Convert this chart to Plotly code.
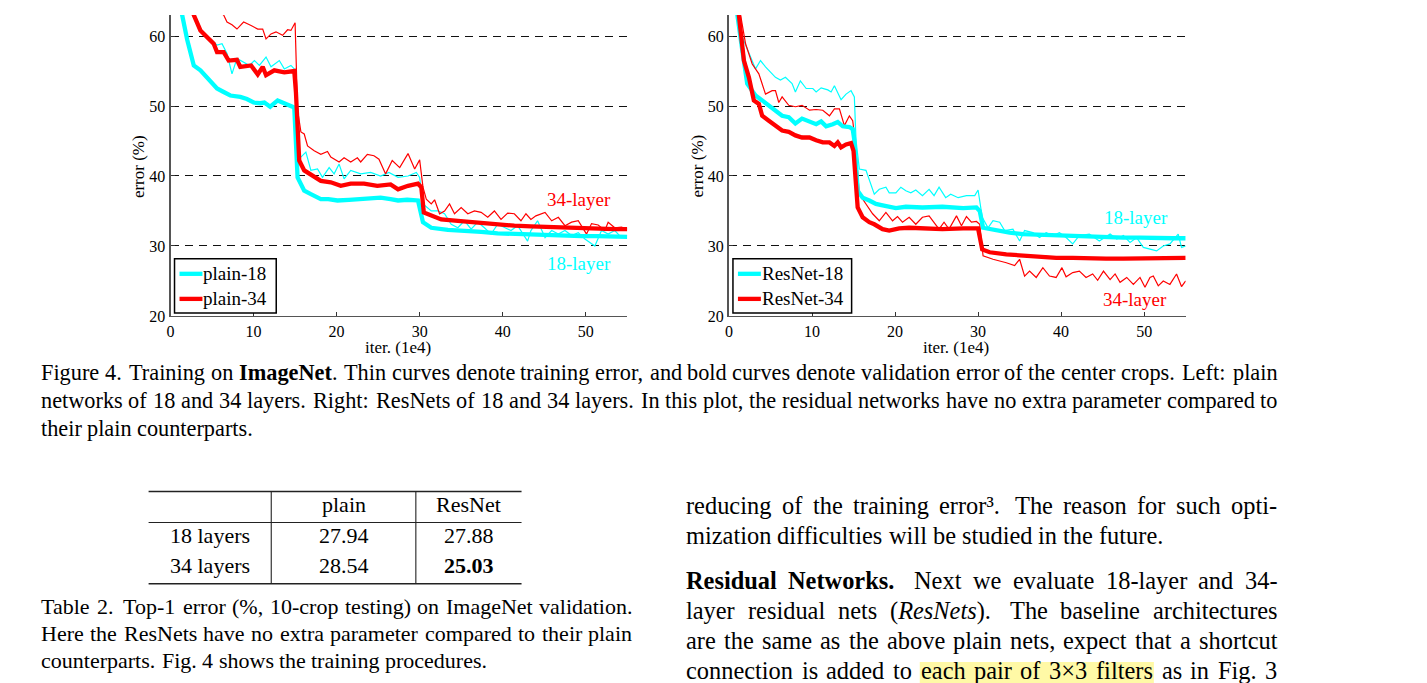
import plotly.graph_objects as go

# ---------------- data ----------------
x_ticks = [0, 10, 20, 30, 40, 50]
y_ticks = [20, 30, 40, 50, 60]

# Left panel: plain networks  (x = iter (1e4), y = error %)
plain18_train = [(2.4, 63.5), (3.2, 62.2), (4.0, 60.1), (4.8, 59.6), (5.6, 58.7), (6.2, 58.9), (6.8, 57.5),
                 (7.4, 54.6), (8.0, 56.8), (8.8, 56.3), (9.5, 55.8), (10.1, 56.5), (10.7, 55.8), (11.5, 57.0),
                 (12.1, 55.6), (13.1, 56.5), (13.7, 55.3), (14.5, 55.8), (14.9, 55.3), (15.3, 43.6), (15.7, 42.7),
                 (16.3, 43.4), (16.9, 40.8), (17.7, 41.0), (18.3, 39.8), (19.1, 41.2), (19.7, 40.3), (20.3, 41.7),
                 (20.9, 39.6), (21.7, 40.8), (22.9, 40.3), (24.1, 40.5), (25.3, 40.0), (26.3, 40.5), (27.4, 39.8),
                 (28.6, 40.0), (29.6, 40.5), (30.0, 39.8), (30.4, 36.0), (31.4, 35.0), (32.2, 35.0), (33.0, 34.6),
                 (33.8, 33.1), (34.6, 32.6), (35.4, 33.6), (36.2, 32.4), (37.0, 33.4), (37.8, 32.6), (38.6, 31.7),
                 (39.4, 33.1), (40.2, 32.6), (41.0, 32.2), (41.8, 32.9), (43.0, 30.7), (43.4, 32.2), (44.2, 33.6),
                 (45.1, 31.2), (45.9, 32.2), (46.7, 31.7), (47.5, 32.2), (48.3, 31.5), (49.1, 31.9), (49.9, 31.0),
                 (51.1, 30.0), (51.9, 32.2), (52.7, 31.7), (53.5, 32.2), (54.3, 31.2), (55.0, 31.5)]
plain34_train = [(5.8, 63.5), (6.4, 63.0), (6.8, 62.0), (7.4, 61.6), (8.0, 61.0), (8.8, 62.0), (9.7, 61.5),
                 (10.5, 61.0), (11.1, 61.0), (11.5, 59.6), (12.1, 60.3), (12.7, 60.6), (13.5, 60.1), (14.1, 60.9),
                 (14.5, 60.8), (15.0, 61.9), (15.3, 49.4), (15.7, 46.3), (16.1, 46.0), (16.5, 44.3), (17.3, 43.6),
                 (18.1, 43.1), (18.9, 43.5), (19.3, 42.7), (20.3, 42.0), (20.9, 42.6), (21.7, 42.0), (22.5, 42.6),
                 (22.9, 42.0), (23.7, 43.1), (24.5, 42.9), (25.1, 42.4), (25.9, 40.3), (26.7, 42.2), (27.6, 41.2),
                 (28.6, 43.2), (29.4, 41.0), (30.0, 42.3), (30.4, 38.4), (30.8, 36.7), (31.4, 36.0), (31.8, 36.6),
                 (32.4, 34.6), (33.0, 35.0), (33.6, 36.0), (34.2, 34.6), (35.0, 35.5), (35.8, 34.6), (36.6, 35.0),
                 (37.4, 34.8), (38.2, 34.1), (39.0, 35.0), (39.8, 33.8), (40.6, 34.7), (41.4, 34.6), (42.2, 33.6),
                 (42.8, 34.6), (43.4, 33.8), (44.0, 34.3), (45.1, 34.8), (45.9, 33.6), (46.7, 34.1), (47.5, 32.9),
                 (48.3, 33.4), (49.1, 33.6), (50.1, 31.7), (50.7, 33.2), (51.5, 33.0), (52.3, 32.2), (52.7, 33.4),
                 (53.5, 32.6), (54.3, 32.7), (55.0, 32.4)]
plain18_val = [(1.0, 66.0), (1.4, 63.0), (2.0, 59.5), (2.8, 55.8), (3.6, 55.1), (4.4, 54.1), (5.0, 53.4),
               (5.6, 52.5), (6.4, 52.0), (7.2, 51.5), (8.4, 51.3), (9.2, 51.0), (10.0, 50.5), (10.8, 50.4),
               (11.3, 50.5), (12.0, 49.9), (12.9, 50.8), (13.5, 50.5), (14.1, 50.1), (14.9, 49.8), (15.3, 39.8),
               (16.1, 37.9), (16.9, 37.4), (18.1, 36.7), (19.0, 36.7), (20.1, 36.5), (21.5, 36.6), (23.3, 36.7),
               (25.3, 36.9), (26.5, 36.7), (27.4, 36.5), (28.5, 36.6), (29.8, 36.5), (30.4, 33.4), (31.4, 32.6),
               (33.4, 32.3), (35.4, 32.2), (37.4, 32.0), (39.4, 31.8), (41.4, 31.7), (43.4, 31.6), (45.4, 31.5),
               (47.5, 31.5), (49.5, 31.4), (51.5, 31.4), (53.5, 31.3), (55.0, 31.3)]
plain34_val = [(2.6, 64.0), (2.8, 63.0), (3.6, 60.8), (4.4, 59.9), (5.2, 58.9), (5.6, 57.7), (6.4, 57.7),
               (7.0, 56.5), (8.0, 56.6), (8.4, 55.6), (9.7, 55.8), (10.5, 54.5), (11.1, 55.6), (11.5, 54.4),
               (12.5, 55.1), (13.7, 54.8), (14.9, 55.0), (15.1, 52.0), (15.5, 42.2), (16.1, 40.8), (17.3, 39.8),
               (18.1, 39.3), (19.3, 39.1), (20.5, 38.6), (21.7, 38.9), (23.3, 38.9), (24.9, 38.6), (26.5, 38.8),
               (27.4, 38.1), (28.6, 38.6), (29.8, 38.9), (30.2, 38.4), (30.5, 34.8), (31.4, 34.3), (32.6, 33.8),
               (34.6, 33.6), (35.4, 33.5), (37.4, 33.4), (39.4, 33.0), (41.4, 32.9), (43.4, 32.8), (45.4, 32.7),
               (47.5, 32.6), (49.5, 32.6), (51.5, 32.5), (53.5, 32.4), (55.0, 32.4)]

# Right panel: residual networks
res18_train = [(0.9, 64.0), (1.0, 63.0), (1.6, 59.9), (2.2, 58.2), (3.2, 55.3), (3.8, 56.5), (4.4, 55.6),
               (5.6, 54.1), (6.2, 53.7), (6.8, 54.1), (7.6, 53.2), (8.0, 52.0), (8.6, 53.6), (9.3, 52.5),
               (10.1, 52.5), (10.5, 52.0), (11.1, 52.6), (11.9, 52.3), (12.3, 52.0), (12.7, 52.9), (13.5, 50.9),
               (14.1, 51.7), (14.7, 52.2), (15.1, 51.3), (15.3, 45.1), (15.7, 41.0), (16.5, 40.8), (17.5, 37.4),
               (18.1, 38.1), (18.9, 38.4), (19.3, 37.6), (20.1, 37.6), (20.7, 38.4), (21.3, 37.9), (21.9, 37.6),
               (22.5, 38.0), (23.3, 37.2), (24.1, 38.1), (24.7, 37.2), (25.3, 38.4), (26.1, 36.9), (26.7, 37.4),
               (27.6, 36.9), (28.6, 37.2), (29.6, 37.2), (30.0, 38.0), (30.5, 34.1), (31.2, 32.6), (31.8, 33.6),
               (32.6, 33.4), (33.2, 32.2), (34.2, 32.4), (35.0, 30.7), (35.6, 32.2), (36.6, 31.9), (37.4, 31.2),
               (38.2, 31.9), (39.0, 31.5), (39.8, 31.9), (40.6, 31.2), (41.4, 30.3), (42.2, 31.5), (43.4, 31.7),
               (44.6, 30.7), (45.9, 31.7), (46.7, 31.0), (47.5, 31.5), (48.3, 30.5), (49.1, 31.2), (49.9, 29.8),
               (50.7, 29.5), (51.5, 29.3), (52.3, 30.0), (53.1, 30.3), (54.1, 31.7), (54.5, 29.8), (55.0, 30.0)]
res34_train = [(1.3, 64.0), (1.4, 63.0), (2.0, 58.9), (2.8, 56.0), (3.6, 54.6), (4.4, 51.7), (5.2, 52.2),
               (5.6, 52.2), (6.0, 50.5), (6.4, 51.3), (7.2, 50.1), (8.0, 49.9), (8.8, 50.1), (9.7, 49.4),
               (10.5, 49.5), (11.3, 49.4), (12.1, 48.6), (12.7, 49.6), (13.3, 49.6), (13.9, 47.2), (14.5, 48.6),
               (14.9, 47.9), (15.2, 45.1), (15.7, 37.4), (16.5, 36.0), (17.3, 34.6), (18.1, 33.6), (18.9, 34.8),
               (19.7, 33.6), (20.3, 34.2), (20.9, 33.4), (21.7, 34.1), (22.5, 33.1), (23.3, 34.1), (24.1, 34.3),
               (24.7, 33.4), (25.3, 32.4), (25.9, 33.4), (26.5, 32.4), (27.4, 34.3), (28.0, 32.9), (28.6, 34.2),
               (29.2, 33.4), (29.8, 33.5), (30.2, 33.1), (30.6, 28.6), (31.8, 28.1), (33.4, 27.6), (34.4, 27.2),
               (35.0, 28.1), (35.6, 25.7), (36.2, 26.4), (37.0, 25.5), (37.8, 26.9), (38.6, 25.7), (39.4, 25.5),
               (40.1, 26.9), (40.6, 25.6), (41.4, 26.2), (42.2, 26.4), (43.0, 25.5), (43.8, 26.0), (44.4, 25.1),
               (45.1, 26.4), (45.9, 25.2), (46.5, 26.0), (47.1, 24.8), (47.9, 25.5), (48.7, 24.5), (49.5, 25.5),
               (50.1, 24.1), (50.7, 25.5), (51.1, 25.7), (51.7, 24.3), (52.3, 25.0), (53.1, 24.5), (53.9, 26.0),
               (54.5, 24.2), (55.0, 25.0)]
res18_val = [(0.9, 64.0), (1.0, 63.0), (1.6, 58.0), (2.2, 53.2), (3.2, 51.5), (4.0, 50.8), (4.8, 50.1),
             (5.6, 49.4), (6.4, 48.6), (7.2, 48.4), (8.0, 47.5), (8.8, 48.2), (9.7, 47.8), (10.5, 47.4),
             (11.1, 47.8), (11.7, 47.1), (12.5, 47.4), (13.1, 47.7), (13.7, 47.1), (14.5, 47.0), (14.9, 46.7),
             (15.1, 45.1), (15.5, 37.9), (16.1, 36.9), (16.9, 36.5), (17.7, 36.0), (18.5, 35.8), (20.1, 35.4),
             (21.3, 35.6), (23.3, 35.5), (25.7, 35.6), (28.2, 35.4), (29.8, 35.5), (30.2, 35.0), (30.6, 32.6),
             (32.2, 32.2), (33.8, 31.9), (35.4, 31.7), (37.4, 31.6), (39.4, 31.5), (41.4, 31.4), (43.4, 31.3),
             (45.4, 31.3), (47.5, 31.2), (49.5, 31.2), (51.5, 31.1), (53.5, 31.1), (55.0, 31.1)]
res34_val = [(1.1, 64.0), (1.2, 63.0), (1.8, 56.5), (2.4, 54.1), (3.0, 50.8), (3.6, 50.3), (4.0, 48.6),
             (4.8, 47.9), (5.6, 47.2), (6.4, 46.5), (7.2, 46.3), (8.0, 45.8), (8.8, 45.5), (9.7, 45.5),
             (10.5, 45.1), (11.3, 44.8), (12.1, 44.8), (12.7, 44.3), (13.1, 44.8), (13.5, 44.1), (14.1, 44.5),
             (14.7, 44.7), (15.0, 43.6), (15.5, 35.5), (16.1, 34.1), (16.9, 33.4), (17.5, 33.1), (18.5, 32.4),
             (19.3, 32.2), (20.5, 32.5), (21.7, 32.6), (23.3, 32.5), (25.7, 32.4), (28.2, 32.5), (30.0, 32.5),
             (30.5, 29.5), (31.4, 29.1), (33.4, 28.8), (35.4, 28.6), (37.4, 28.4), (39.4, 28.3), (41.4, 28.3),
             (43.4, 28.2), (45.4, 28.2), (47.5, 28.2), (49.5, 28.2), (51.5, 28.2), (53.5, 28.3), (55.0, 28.3)]

legend_left = ["plain-18", "plain-34"]
legend_right = ["ResNet-18", "ResNet-34"]

# Table 2
table_rows = ["18 layers", "34 layers"]
table_cols = ["plain", "ResNet"]
table_plain = [27.94, 28.54]
table_resnet = [27.88, 25.03]

# Text
caption_lines = [
    "Figure 4. Training on <b>ImageNet</b>. Thin curves denote training error, and bold curves denote validation error of the center crops. Left: plain",
    "networks of 18 and 34 layers. Right: ResNets of 18 and 34 layers. In this plot, the residual networks have no extra parameter compared to",
    "their plain counterparts.",
]
table_caption_lines = [
    "Table 2. Top-1 error (%, 10-crop testing) on ImageNet validation.",
    "Here the ResNets have no extra parameter compared to their plain",
    "counterparts. Fig. 4 shows the training procedures.",
]
body_lines = [
    "reducing of the training error³. The reason for such opti-",
    "mization difficulties will be studied in the future.",
    "<b>Residual</b> <b>Networks.</b> Next we evaluate 18-layer and 34-",
    "layer residual nets (<i>ResNets</i>). The baseline architectures",
    "are the same as the above plain nets, expect that a shortcut",
    "connection is added to each pair of 3×3 filters as in Fig. 3",
]

# ---------------- styling / layout helpers ----------------
W, H = 1427, 683
H_EFF = 672.0   # vertical extent the page is actually laid out on
X_OFF = 3.0     # horizontal offset observed in the rendered page
SERIF = "Liberation Serif, Times New Roman, serif"
CYAN = "#00FFFF"
RED = "#FF0000"


def px(x):
    return (x - X_OFF) / W


def py(y):
    return 1 - y / H_EFF


# Times metrics (per 1000 em) used to justify text lines
_up = "ABCDEFGHIJKLMNOPQRSTUVWXYZ"
_lo = "abcdefghijklmnopqrstuvwxyz"
TR = {" ": 250, "!": 333, "%": 833, "(": 333, ")": 333, ",": 250, "-": 333, ".": 250, ":": 278, ";": 278,
      "×": 564, "³": 300, "'": 333}
TR.update({d: 500 for d in "0123456789"})
TR.update(dict(zip(_up, [722, 667, 667, 722, 611, 556, 722, 722, 333, 389, 722, 611, 889, 722, 722, 556, 722,
                         667, 556, 611, 722, 722, 944, 722, 722, 611])))
TR.update(dict(zip(_lo, [444, 500, 444, 500, 444, 333, 500, 500, 278, 278, 500, 278, 778, 500, 500, 500, 500,
                         333, 389, 278, 500, 500, 722, 500, 500, 444])))
TB = dict(TR)
TB.update(dict(zip(_up, [722, 667, 722, 722, 667, 611, 778, 778, 389, 500, 778, 667, 944, 722, 778, 611, 778,
                         722, 556, 667, 722, 722, 1000, 722, 722, 667])))
TB.update(dict(zip(_lo, [500, 556, 444, 556, 444, 333, 500, 556, 278, 333, 556, 278, 833, 556, 500, 556, 556,
                         444, 389, 333, 556, 500, 722, 500, 500, 444])))
TI = dict(TR)
TI.update(dict(zip(_up, [611, 611, 667, 722, 611, 611, 722, 722, 333, 444, 667, 556, 833, 667, 722, 611, 722,
                         611, 500, 556, 722, 611, 833, 611, 556, 556])))
TI.update(dict(zip(_lo, [500, 500, 444, 500, 444, 278, 500, 500, 278, 278, 444, 278, 722, 500, 500, 500, 500,
                         389, 389, 278, 500, 444, 667, 444, 444, 389])))


def strip_tags(s):
    out, i = "", 0
    while i < len(s):
        if s[i] == "<":
            i = s.index(">", i) + 1
            continue
        out += s[i]
        i += 1
    return out


def measure(s, size):
    w, bold, ital, i = 0, False, False, 0
    while i < len(s):
        if s[i] == "<":
            j = s.index(">", i)
            tag = s[i + 1:j]
            if tag == "b":
                bold = True
            elif tag == "/b":
                bold = False
            elif tag == "i":
                ital = True
            elif tag == "/i":
                ital = False
            i = j + 1
            continue
        tbl = TB if bold else (TI if ital else TR)
        w += tbl.get(s[i], 500)
        i += 1
    return w * size / 1000.0


annotations = []
shapes = []


def text_line(line, x0, x1, y, size, justify):
    words = line.split(" ")
    widths = [measure(w, size) for w in words]
    bases, weights = [], []
    for k in range(len(words) - 1):
        p = strip_tags(words[k])
        if p == "Networks.":
            bases.append(0.6 * size); weights.append(1.0)
        elif p.endswith((".", ":")) and p not in ("Fig.",):
            bases.append(0.33 * size); weights.append(1.6)
        else:
            bases.append(0.25 * size); weights.append(1.0)
    per = 0.0
    if justify and len(words) > 1:
        per = ((x1 - x0) - sum(widths) - sum(bases)) / sum(weights)
    x = x0
    pos = []
    for k, w in enumerate(words):
        pos.append((x, x + widths[k]))
        annotations.append(dict(text=w, x=px(x), y=py(y - 0.11 * size), xref="paper", yref="paper",
                                xanchor="left", yanchor="middle", showarrow=False, borderpad=0, borderwidth=0,
                                font=dict(family=SERIF, size=size, color="black")))
        if k < len(words) - 1:
            x += widths[k] + bases[k] + weights[k] * per
    return words, pos


def ctext(t, x, y, size, color="black", xanchor="center", angle=0, ref=("paper", "paper")):
    annotations.append(dict(text=t, x=x, y=y, xref=ref[0], yref=ref[1], xanchor=xanchor, yanchor="middle",
                            showarrow=False, textangle=angle, borderpad=0, borderwidth=0,
                            font=dict(family=SERIF, size=size, color=color)))


# ---------------- figure ----------------
fig = go.Figure()


def add_series(pts, xa, ya, color, width, name):
    fig.add_trace(go.Scatter(x=[p[0] for p in pts], y=[p[1] for p in pts], mode="lines", name=name,
                             line=dict(color=color, width=width), xaxis=xa, yaxis=ya,
                             showlegend=False, hoverinfo="skip"))


THIN, THICK = 1.2, 4.3
add_series(plain18_train, "x", "y", CYAN, THIN, "plain-18 train")
add_series(plain34_train, "x", "y", RED, THIN, "plain-34 train")
add_series(plain18_val, "x", "y", CYAN, THICK, "plain-18")
add_series(plain34_val, "x", "y", RED, THICK, "plain-34")
add_series(res18_train, "x2", "y2", CYAN, THIN, "ResNet-18 train")
add_series(res34_train, "x2", "y2", RED, THIN, "ResNet-34 train")
add_series(res18_val, "x2", "y2", CYAN, THICK, "ResNet-18")
add_series(res34_val, "x2", "y2", RED, THICK, "ResNet-34")

PL = [(170, 628), (730, 1188)]  # plot x pixel extents
PT, PB = 15, 315
tickfont = dict(family=SERIF, size=16, color="black")


def xaxis(i):
    return dict(domain=[px(PL[i][0]), px(PL[i][1])], range=[0, 55], tickvals=x_ticks, ticks="inside",
                ticklen=4, tickwidth=1, tickcolor="#333", showline=True, linecolor="#555", linewidth=1.5,
                showgrid=False, zeroline=False, tickfont=tickfont, fixedrange=True,
                anchor="y" if i == 0 else "y2")


def yaxis(i):
    return dict(domain=[py(PB), py(PT)], range=[20, 63], tickvals=y_ticks, ticks="inside", ticklen=4,
                tickwidth=1, tickcolor="#333", showline=True, linecolor="#555", linewidth=2,
                showgrid=True, gridcolor="#111", gridwidth=1, griddash="8px,6px", zeroline=False,
                tickfont=tickfont, fixedrange=True, anchor="x" if i == 0 else "x2")


# axis titles
for i in range(2):
    x0, x1 = PL[i]
    ctext("error (%)", px(x0 - 32), py(166), 17, angle=-90)
    ctext("iter. (1e4)", px((x0 + x1) / 2 - 1), py(346), 17)

# curve labels
ctext("34-layer", 49.2, 36.6, 19, RED, ref=("x", "y"))
ctext("18-layer", 49.2, 27.55, 19, CYAN, ref=("x", "y"))
ctext("18-layer", 49.0, 34.0, 19, CYAN, ref=("x2", "y2"))
ctext("34-layer", 48.9, 22.3, 19, RED, ref=("x2", "y2"))

# legends (drawn as boxed keys)
for (bx0, bx1), labels in (((174, 276), legend_left), ((734, 853), legend_right)):
    shapes.append(dict(type="rect", xref="paper", yref="paper", x0=px(bx0), x1=px(bx1), y0=py(312), y1=py(258),
                       line=dict(color="black", width=1.5), fillcolor="white", layer="above"))
    for lab, col, yy in ((labels[0], CYAN, 273), (labels[1], RED, 298)):
        shapes.append(dict(type="line", xref="paper", yref="paper", x0=px(bx0 + 5), x1=px(bx0 + 28),
                           y0=py(yy), y1=py(yy), line=dict(color=col, width=THICK), layer="above"))
        ctext(lab, px(bx0 + 29), py(yy), 19, xanchor="left")

# figure caption (justified lines end ~3px short in the browser, so aim slightly wider)
JUST_PAD = 3
for k, line in enumerate(caption_lines):
    text_line(line, 40, 1277 + JUST_PAD, 374 + 28 * k, 22.3, justify=(k < len(caption_lines) - 1))

# table 2
TX0, TC1, TC2, TX1 = 148, 271, 416, 522
for yy, wd in ((490, 1.6), (521, 1.1), (582, 1.6)):
    shapes.append(dict(type="line", xref="paper", yref="paper", x0=px(TX0), x1=px(TX1), y0=py(yy), y1=py(yy),
                       line=dict(color="#222", width=wd)))
for xx in (TC1, TC2):
    shapes.append(dict(type="line", xref="paper", yref="paper", x0=px(xx), x1=px(xx), y0=py(490), y1=py(582),
                       line=dict(color="#222", width=1.1)))
col_c = [(TX0 + TC1) / 2, (TC1 + TC2) / 2, (TC2 + TX1) / 2]
TS = 22
ctext(table_cols[0], px(col_c[1]), py(505 - 0.11 * TS), TS)
ctext(table_cols[1], px(col_c[2]), py(505 - 0.11 * TS), TS)
best = min(table_plain + table_resnet)
for r, name in enumerate(table_rows):
    yy = 536 + 30 * r - 0.11 * TS
    ctext(name, px(col_c[0]), py(yy), TS)
    for c, vals in ((1, table_plain), (2, table_resnet)):
        v = vals[r]
        t = f"{v:.2f}"
        if v == best:
            t = f"<b>{t}</b>"
        ctext(t, px(col_c[c]), py(yy), TS)
for k, line in enumerate(table_caption_lines):
    text_line(line, 40, 630 + JUST_PAD, 607 + 27 * k, 22, justify=(k < len(table_caption_lines) - 1))

# right column body text
body_y = [507, 536.5, 581.5, 611.5, 641.5, 671.5]
for k, line in enumerate(body_lines):
    words, pos = text_line(line, 687, 1277 + JUST_PAD, body_y[k], 24.4, justify=(k != 1))
    if k == 5:
        i0 = words.index("each")
        i1 = words.index("filters")
        shapes.append(dict(type="rect", xref="paper", yref="paper", x0=px(pos[i0][0] - 1), x1=px(pos[i1][1] + 1),
                           y0=py(686), y1=py(660), line=dict(width=0), fillcolor="#FFF9A6", layer="below"))

fig.update_layout(
    width=W, height=H, autosize=False, margin=dict(l=0, r=0, t=0, b=0),
    paper_bgcolor="white", plot_bgcolor="white",
    xaxis=xaxis(0), yaxis=yaxis(0), xaxis2=xaxis(1), yaxis2=yaxis(1),
    annotations=annotations, shapes=shapes, showlegend=False,
    font=dict(family=SERIF, color="black"),
)

fig.write_html("out.html", config={"displayModeBar": False, "staticPlot": True},
               post_script="document.body.style.margin='0';")
